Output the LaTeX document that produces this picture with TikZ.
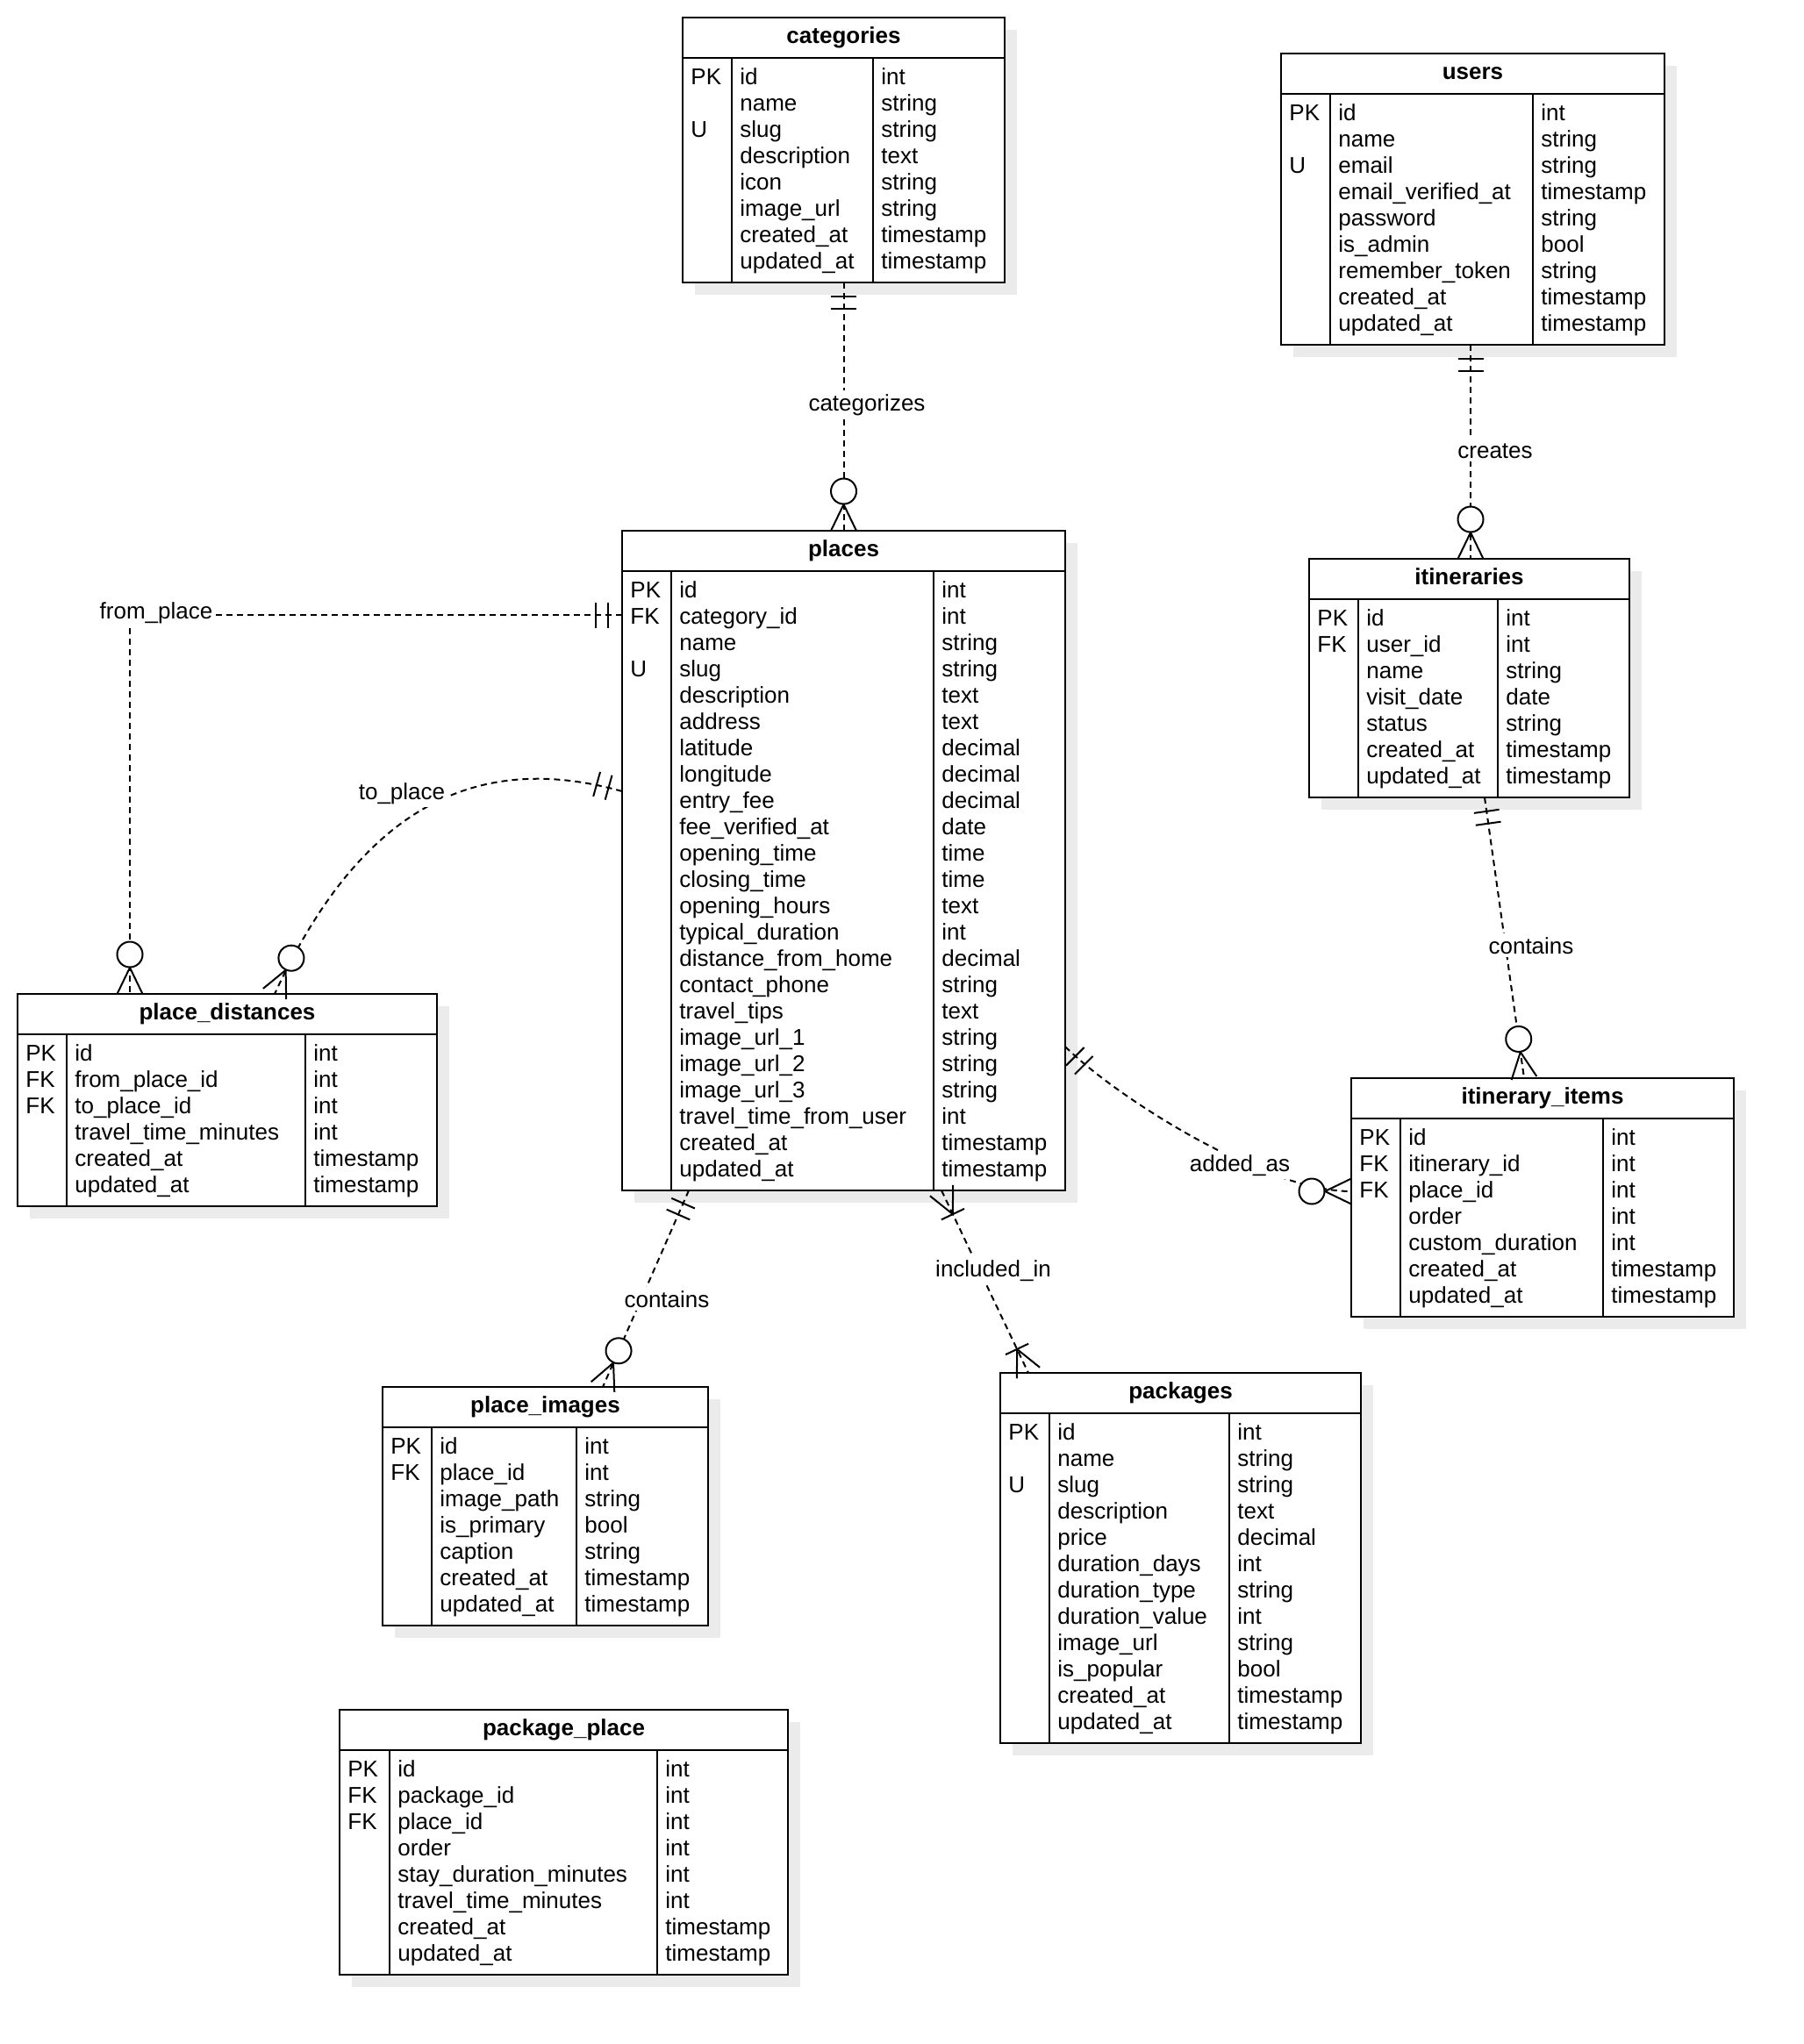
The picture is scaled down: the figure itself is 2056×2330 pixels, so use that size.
\documentclass[tikz,border=0pt]{standalone}
\usepackage{fontspec}
\setmainfont{Liberation Sans}
\usetikzlibrary{calc,shadows}

\tikzset{
  tblbox/.style={draw=black, line width=1pt, fill=white, inner sep=0pt, outer sep=0pt,
    drop shadow={shadow xshift=7pt, shadow yshift=-7pt, fill=black!8, opacity=1}},
  tline/.style={draw=black, line width=1pt},
  celltext/.style={anchor=base west, inner sep=0pt, font=\fontsize{13}{15}\selectfont},
  titletext/.style={anchor=base, inner sep=0pt, font=\fontsize{13}{15}\selectfont\bfseries},
  rel/.style={draw=black, line width=1pt, dash pattern=on 3.5pt off 2.5pt},
  relmark/.style={draw=black, line width=1pt, solid},
  rellabel/.style={anchor=base, fill=white, inner sep=2pt, font=\fontsize{13}{15}\selectfont},
}

% #1 name, #2 x1, #3 y1, #4 x2, #5 divider 1, #6 divider 2, #7 rows, #8 title
\newcommand{\ertable}[8]{%
  \pgfmathsetmacro{\erw}{(#4-#2)*0.5}%
  \pgfmathsetmacro{\erh}{(62+30*#7)*0.5}%
  \node[tblbox, anchor=north west, minimum width=\erw pt, minimum height=\erh pt] (#1) at (#2,#3) {};
  \draw[tline] (#2,#3+46) -- (#4,#3+46);
  \draw[tline] (#5,#3+46) -- (#5,#3+62+30*#7);
  \draw[tline] (#6,#3+46) -- (#6,#3+62+30*#7);
  \node[titletext] (#1-title) at ({(#2+#4)/2},#3+29.5) {#8};
}
% #1 name, #2 x1, #3 divider 1, #4 divider 2, #5 header line y, #6 rows
\newcommand{\errows}[6]{%
  \foreach \ky/\nm/\ty [count=\ri] in {#6} {
    \ifx\ky\empty\else
      \node[celltext] (#1-k\ri) at (#2+9,#5+30*\ri) {\ky};
    \fi
    \node[celltext] (#1-n\ri) at (#3+9,#5+30*\ri) {\nm};
    \node[celltext] (#1-t\ri) at (#4+9,#5+30*\ri) {\ty};
  }
}
% relationship end markers: #1 end point, #2 point along the line, #3 marker
\newcommand{\ermark}[3]{%
  \pgfmathanglebetweenpoints{\pgfpointanchor{#1}{center}}{\pgfpointanchor{#2}{center}}%
  \edef\erang{\pgfmathresult}%
  \begin{scope}[shift={(#1)}, rotate=\erang]
    #3
  \end{scope}
}
\newcommand{\mandone}{\draw[relmark] (16,-14.5) -- (16,14.5) (30,-14.5) -- (30,14.5);}
\newcommand{\zeromany}{\draw[relmark] (0,-14.5) -- (30,0) -- (0,14.5); \draw[relmark, fill=white] (45,0) circle[radius=14.5];}
\newcommand{\mandmany}{\draw[relmark] (0,-14.5) -- (30,0) -- (0,14.5) (30,-14.5) -- (30,14.5);}

\begin{document}
\begin{tikzpicture}[x=0.5pt, y=-0.5pt]
\fill[white] (0,0) rectangle (2056,2330);
\useasboundingbox (0,0) rectangle (2056,2330);

% ---------------- tables ----------------
\ertable{categories}{778}{20}{1145}{834}{995}{8}{categories}
\errows{categories}{778}{834}{995}{66}{PK/id/int, /name/string, U/slug/string, /description/text, /icon/string, /image\_url/string, /created\_at/timestamp, /updated\_at/timestamp}

\ertable{users}{1460}{61}{1897}{1516}{1747}{9}{users}
\errows{users}{1460}{1516}{1747}{107}{PK/id/int, /name/string, U/email/string, /email\_verified\_at/timestamp, /password/string, /is\_admin/bool, /remember\_token/string, /created\_at/timestamp, /updated\_at/timestamp}

\ertable{places}{709}{605}{1214}{765}{1064}{23}{places}
\errows{places}{709}{765}{1064}{651}{PK/id/int, FK/category\_id/int, /name/string, U/slug/string, /description/text, /address/text, /latitude/decimal, /longitude/decimal, /entry\_fee/decimal, /fee\_verified\_at/date, /opening\_time/time, /closing\_time/time, /opening\_hours/text, /typical\_duration/int, /distance\_from\_home/decimal, /contact\_phone/string, /travel\_tips/text, /image\_url\_1/string, /image\_url\_2/string, /image\_url\_3/string, /travel\_time\_from\_user/int, /created\_at/timestamp, /updated\_at/timestamp}

\ertable{itineraries}{1492}{637}{1857}{1548}{1707}{7}{itineraries}
\errows{itineraries}{1492}{1548}{1707}{683}{PK/id/int, FK/user\_id/int, /name/string, /visit\_date/date, /status/string, /created\_at/timestamp, /updated\_at/timestamp}

\ertable{pdist}{20}{1133}{498}{76}{348}{6}{place\_distances}
\errows{pdist}{20}{76}{348}{1179}{PK/id/int, FK/from\_place\_id/int, FK/to\_place\_id/int, /travel\_time\_minutes/int, /created\_at/timestamp, /updated\_at/timestamp}

\ertable{items}{1540}{1229}{1976}{1596}{1827}{7}{itinerary\_items}
\errows{items}{1540}{1596}{1827}{1275}{PK/id/int, FK/itinerary\_id/int, FK/place\_id/int, /order/int, /custom\_duration/int, /created\_at/timestamp, /updated\_at/timestamp}

\ertable{pimg}{436}{1581}{807}{492}{657}{7}{place\_images}
\errows{pimg}{436}{492}{657}{1627}{PK/id/int, FK/place\_id/int, /image\_path/string, /is\_primary/bool, /caption/string, /created\_at/timestamp, /updated\_at/timestamp}

\ertable{packages}{1140}{1565}{1551}{1196}{1401}{12}{packages}
\errows{packages}{1140}{1196}{1401}{1611}{PK/id/int, /name/string, U/slug/string, /description/text, /price/decimal, /duration\_days/int, /duration\_type/string, /duration\_value/int, /image\_url/string, /is\_popular/bool, /created\_at/timestamp, /updated\_at/timestamp}

\ertable{pkgplace}{387}{1949}{898}{444}{749}{8}{package\_place}
\errows{pkgplace}{387}{444}{749}{1995}{PK/id/int, FK/package\_id/int, FK/place\_id/int, /order/int, /stay\_duration\_minutes/int, /travel\_time\_minutes/int, /created\_at/timestamp, /updated\_at/timestamp}

% ---------------- relationships ----------------
% categorizes
\coordinate (r1a) at (categories.south);
\coordinate (r1b) at (places.north);
\draw[rel] (r1a) -- (r1b);
\ermark{r1a}{r1b}{\mandone}
\ermark{r1b}{r1a}{\zeromany}
\node[rellabel] (l1) at (988,468) {categorizes};

% creates
\coordinate (r2a) at ($(users.south)+(-2.5,0)$);
\coordinate (r2b) at (r2a |- itineraries.north);
\draw[rel] (r2a) -- (r2b);
\ermark{r2a}{r2b}{\mandone}
\ermark{r2b}{r2a}{\zeromany}
\node[rellabel] (l2) at (1704,522) {creates};

% from_place
\coordinate (r3a) at ($(places.north west)+(0,96)$);
\coordinate (r3b) at ($(pdist.north west)+(128,0)$);
\coordinate (r3c) at (r3b |- r3a);
\draw[rel] (r3a) -- (r3c) -- (r3b);
\ermark{r3a}{r3c}{\mandone}
\ermark{r3b}{r3c}{\zeromany}
\node[rellabel] (l3) at (178,705) {from\_place};

% to_place
\coordinate (r4a) at ($(places.north west)+(0,297)$);
\coordinate (r4b) at ($(pdist.north west)+(293,0)$);
\coordinate (r4c1) at (517,848);
\coordinate (r4c2) at (397,952);
\draw[rel] (r4a) .. controls (r4c1) and (r4c2) .. (r4b);
\ermark{r4a}{r4c1}{\mandone}
\ermark{r4b}{r4c2}{\zeromany}
\node[rellabel] (l4) at (458,911) {to\_place};

% contains (place_images)
\coordinate (r5a) at ($(places.south west)+(76,0)$);
\coordinate (r5b) at ($(pimg.north west)+(251,0)$);
\draw[rel] (r5a) -- (r5b);
\ermark{r5a}{r5b}{\mandone}
\ermark{r5b}{r5a}{\zeromany}
\node[rellabel] (l5) at (760,1490) {contains};

% included_in
\coordinate (r6a) at ($(places.south west)+(364,0)$);
\coordinate (r6b) at ($(packages.north west)+(32,0)$);
\draw[rel] (r6a) -- (r6b);
\ermark{r6a}{r6b}{\mandmany}
\ermark{r6b}{r6a}{\mandmany}
\node[rellabel] (l6) at (1132,1455) {included\_in};

% added_as
\coordinate (r7a) at ($(places.north east)+(0,588)$);
\coordinate (r7b) at ($(items.north west)+(0,129)$);
\coordinate (r7c1) at (1270,1249);
\coordinate (r7c2) at (1440,1358);
\draw[rel] (r7a) .. controls (r7c1) and (r7c2) .. (r7b);
\ermark{r7a}{r7c1}{\mandone}
\ermark{r7b}{r7c2}{\zeromany}
\node[rellabel] (l7) at (1413,1335) {added\_as};

% contains (itinerary_items)
\coordinate (r8a) at ($(itineraries.south west)+(200,0)$);
\coordinate (r8b) at ($(items.north west)+(197,0)$);
\draw[rel] (r8a) -- (r8b);
\ermark{r8a}{r8b}{\mandone}
\ermark{r8b}{r8a}{\zeromany}
\node[rellabel] (l8) at (1745,1087) {contains};
\end{tikzpicture}
\end{document}
